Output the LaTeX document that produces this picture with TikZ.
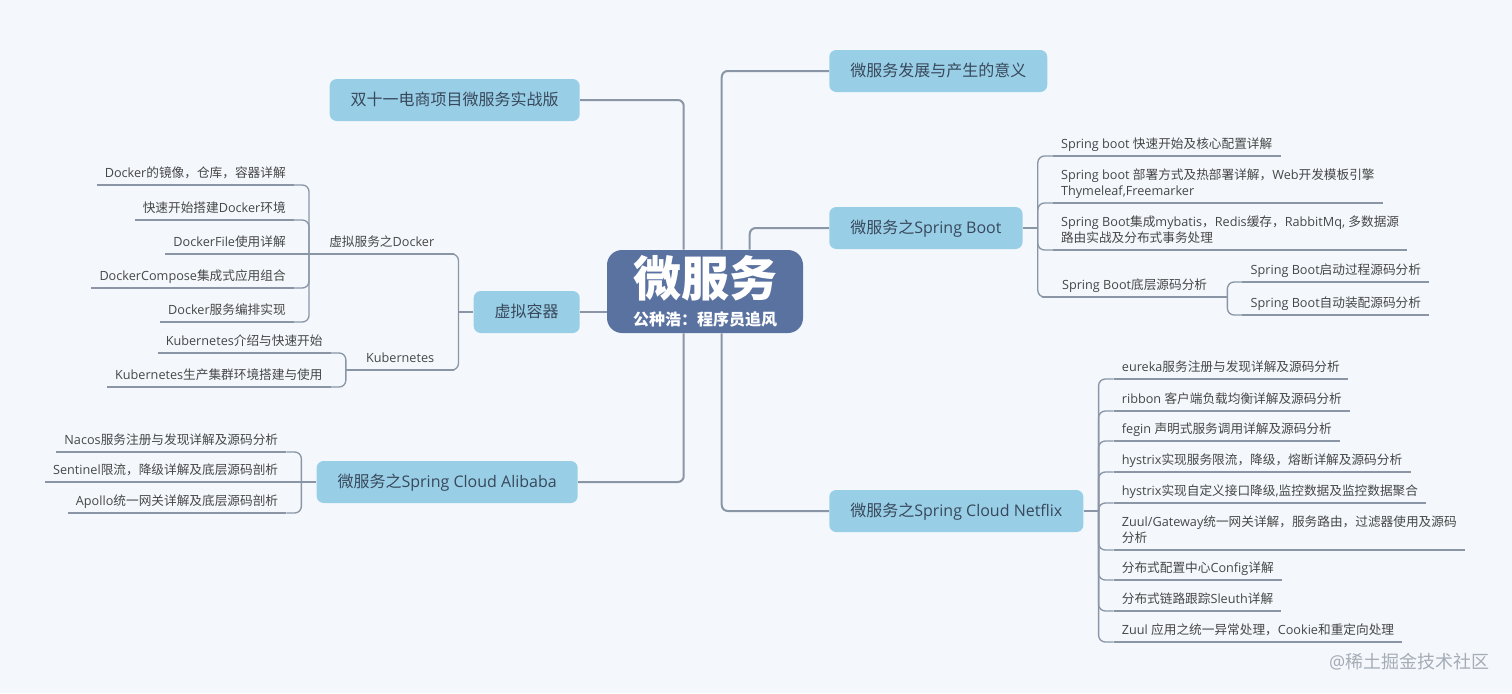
\documentclass[tikz,border=0pt]{standalone}
\usepackage{fontspec}
\setmainfont{Open Sans}
\newfontfamily\latinfont{Open Sans}
\newfontfamily\cjkfont{Noto Sans CJK SC}
\usetikzlibrary{calc}
\XeTeXinterchartokenstate=1
\newXeTeXintercharclass\CJKcls
\newcount\cjkcnt
\cjkcnt="3000 \loop\XeTeXcharclass\cjkcnt=\CJKcls\ifnum\cjkcnt<"303F \advance\cjkcnt by 1 \repeat
\cjkcnt="4E00 \loop\XeTeXcharclass\cjkcnt=\CJKcls\ifnum\cjkcnt<"9FFF \advance\cjkcnt by 1 \repeat
\cjkcnt="FF00 \loop\XeTeXcharclass\cjkcnt=\CJKcls\ifnum\cjkcnt<"FFEF \advance\cjkcnt by 1 \repeat
\XeTeXinterchartoks 0 \CJKcls = {\cjkfont}
\XeTeXinterchartoks 4095 \CJKcls = {\cjkfont}
\XeTeXinterchartoks \CJKcls 0 = {\latinfont}
\XeTeXinterchartoks \CJKcls 4095 = {\latinfont}
\definecolor{bg}{RGB}{244,248,252}
\definecolor{nodefill}{RGB}{153,207,230}
\definecolor{nodetext}{RGB}{56,72,92}
\definecolor{rootfill}{RGB}{90,114,160}
\definecolor{linec}{RGB}{138,150,166}
\definecolor{leaftext}{RGB}{70,70,70}
\definecolor{wmc}{RGB}{165,172,182}
\begin{document}
\begin{tikzpicture}[x=0.75pt,y=-0.75pt,
  root/.style={fill=rootfill, rounded corners=11.25pt, minimum width=147pt, minimum height=62.25pt, inner sep=0pt, text=white, align=center, font=\fontsize{12}{21.6}\selectfont\bfseries},
  topic/.style={fill=nodefill, rounded corners=5.25pt, minimum height=31.5pt, inner xsep=15.75pt, inner ysep=0pt, text=nodetext, font=\fontsize{12}{14}\selectfont, text height=9pt, text depth=0.6pt},
  trunk/.style={draw=linec, line width=1.5pt, rounded corners=4.5pt},
  sub/.style={draw=linec, line width=1pt, rounded corners=5pt},
  leafbase/.style={inner ysep=5.2pt, text=leaftext, font=\fontsize{9.5}{12}\selectfont, text height=7.1pt, text depth=0.5pt},
  rleaf/.style={leafbase, anchor=south west, inner xsep=6pt, xshift=11.25pt, align=left},
  lleaf/.style={leafbase, anchor=south east, inner xsep=6pt, xshift=-11.25pt, align=right},
  rmid/.style={leafbase, anchor=south west, inner xsep=15pt, xshift=3pt},
  lmid/.style={leafbase, anchor=south east, inner xsep=15pt, xshift=-3pt},
]
\useasboundingbox (0,0) rectangle (1512,693);
\fill[bg] (0,0) rectangle (1512,693);

% root
\node[root] (c) at (705,291.5) {{\fontsize{36}{21.6}\selectfont 微服务}\\公种浩：程序员追风};

% main topics
\node[topic, anchor=east] (s11) at (580,100) {双十一电商项目微服务实战版};
\node[topic, anchor=east] (vc) at (580,312) {虚拟容器};
\node[topic, anchor=east] (ali) at (578,482) {微服务之Spring Cloud Alibaba};
\node[topic, anchor=west] (dev) at (829,71) {微服务发展与产生的意义};
\node[topic, anchor=west] (sb) at (829,228) {微服务之Spring Boot};
\node[topic, anchor=west] (nf) at (829,511) {微服务之Spring Cloud Netflix};

% bracket points
\coordinate (sbb) at ($(sb.east)+(15,0)$);
\coordinate (nfb) at ($(nf.east)+(15,0)$);
\coordinate (vcb) at ($(vc.west)+(-15,0)$);
\coordinate (alib) at ($(ali.west)+(-15,0)$);

% Spring Boot children
\node[rleaf] (sb1) at (sbb |- 0,156) {Spring boot 快速开始及核心配置详解};
\node[rleaf] (sb2) at (sbb |- 0,203) {Spring boot 部署方式及热部署详解，Web开发模板引擎\\Thymeleaf,Freemarker};
\node[rleaf] (sb3) at (sbb |- 0,250) {Spring Boot集成mybatis，Redis缓存，RabbitMq, 多数据源\\路由实战及分布式事务处理};
\node[rmid] (sb4) at (sbb |- 0,297) {Spring Boot底层源码分析};
\coordinate (sb4b) at (sb4.south east);
\node[rleaf] (sb41) at (sb4b |- 0,282) {Spring Boot启动过程源码分析};
\node[rleaf] (sb42) at (sb4b |- 0,315) {Spring Boot自动装配源码分析};

% Netflix children
\node[rleaf] (n1) at (nfb |- 0,379) {eureka服务注册与发现详解及源码分析};
\node[rleaf] (n2) at (nfb |- 0,411) {ribbon 客户端负载均衡详解及源码分析};
\node[rleaf] (n3) at (nfb |- 0,441) {fegin 声明式服务调用详解及源码分析};
\node[rleaf] (n4) at (nfb |- 0,472) {hystrix实现服务限流，降级，熔断详解及源码分析};
\node[rleaf] (n5) at (nfb |- 0,503) {hystrix实现自定义接口降级,监控数据及监控数据聚合};
\node[rleaf] (n6) at (nfb |- 0,550) {Zuul/Gateway统一网关详解，服务路由，过滤器使用及源码\\分析};
\node[rleaf] (n7) at (nfb |- 0,580) {分布式配置中心Config详解};
\node[rleaf] (n8) at (nfb |- 0,611) {分布式链路跟踪Sleuth详解};
\node[rleaf] (n9) at (nfb |- 0,642) {Zuul 应用之统一异常处理，Cookie和重定向处理};

% virtual container children
\node[lmid] (dk) at (vcb |- 0,254) {虚拟服务之Docker};
\node[lmid] (k8s) at (vcb |- 0,370) {Kubernetes};
\coordinate (dkb) at (dk.south west);
\coordinate (k8sb) at (k8s.south west);
\node[lleaf] (d1) at (dkb |- 0,185) {Docker的镜像，仓库，容器详解};
\node[lleaf] (d2) at (dkb |- 0,220) {快速开始搭建Docker环境};
\node[lleaf] (d3) at (dkb |- 0,254) {DockerFile使用详解};
\node[lleaf] (d4) at (dkb |- 0,288) {DockerCompose集成式应用组合};
\node[lleaf] (d5) at (dkb |- 0,322) {Docker服务编排实现};
\node[lleaf] (k1) at (k8sb |- 0,353) {Kubernetes介绍与快速开始};
\node[lleaf] (k2) at (k8sb |- 0,387) {Kubernetes生产集群环境搭建与使用};

% Alibaba children
\node[lleaf] (a1) at (alib |- 0,452) {Nacos服务注册与发现详解及源码分析};
\node[lleaf] (a2) at (alib |- 0,482) {Sentinel限流，降级详解及底层源码剖析};
\node[lleaf] (a3) at (alib |- 0,513) {Apollo统一网关详解及底层源码剖析};

% trunk connectors
\draw[trunk] (s11.east) -| ($(c.north west)+(77,0)$);
\draw[trunk] (ali.east) -| ($(c.south west)+(77,0)$);
\draw[trunk] (vc.east) -- (vc.east -| c.west);
\draw[trunk] (dev.west) -| ($(c.north west)+(115,0)$);
\draw[trunk] (nf.west) -| ($(c.south west)+(115,0)$);
\draw[trunk] (sb.west) -| ($(c.north west)+(143,0)$);

% sub connectors
\draw[sub] (sb.east) -- (sbb);
\foreach \ch in {sb1,sb2,sb3,sb4} \draw[sub] (sbb) |- (\ch.south west);
\foreach \ch in {sb41,sb42} \draw[sub] (sb4b) |- (\ch.south west);
\draw[sub] (nf.east) -- (nfb);
\foreach \ch in {n1,n2,n3,n4,n5,n6,n7,n8,n9} \draw[sub] (nfb) |- (\ch.south west);
\draw[sub] (vc.west) -- (vcb);
\foreach \ch in {dk,k8s} \draw[sub] (vcb) |- (\ch.south east);
\foreach \ch in {d1,d2,d4,d5} \draw[sub] (dkb) |- (\ch.south east);
\draw[sub] (dkb) -- (d3.south east);
\foreach \ch in {k1,k2} \draw[sub] (k8sb) |- (\ch.south east);
\draw[sub] (ali.west) -- (alib);
\foreach \ch in {a1,a3} \draw[sub] (alib) |- (\ch.south east);
\draw[sub] (alib) -- (a2.south east);

% underlines
\foreach \n in {sb1,sb2,sb3,sb4,sb41,sb42,n1,n2,n3,n4,n5,n6,n7,n8,n9,dk,k8s,d1,d2,d3,d4,d5,k1,k2,a1,a2,a3}
  \draw[sub] (\n.south west) -- (\n.south east);

% watermark
\node[anchor=east, text=wmc, font=\fontsize{13.5}{16}\selectfont] (wm) at (1494,662) {@稀土掘金技术社区};
\end{tikzpicture}
\end{document}
